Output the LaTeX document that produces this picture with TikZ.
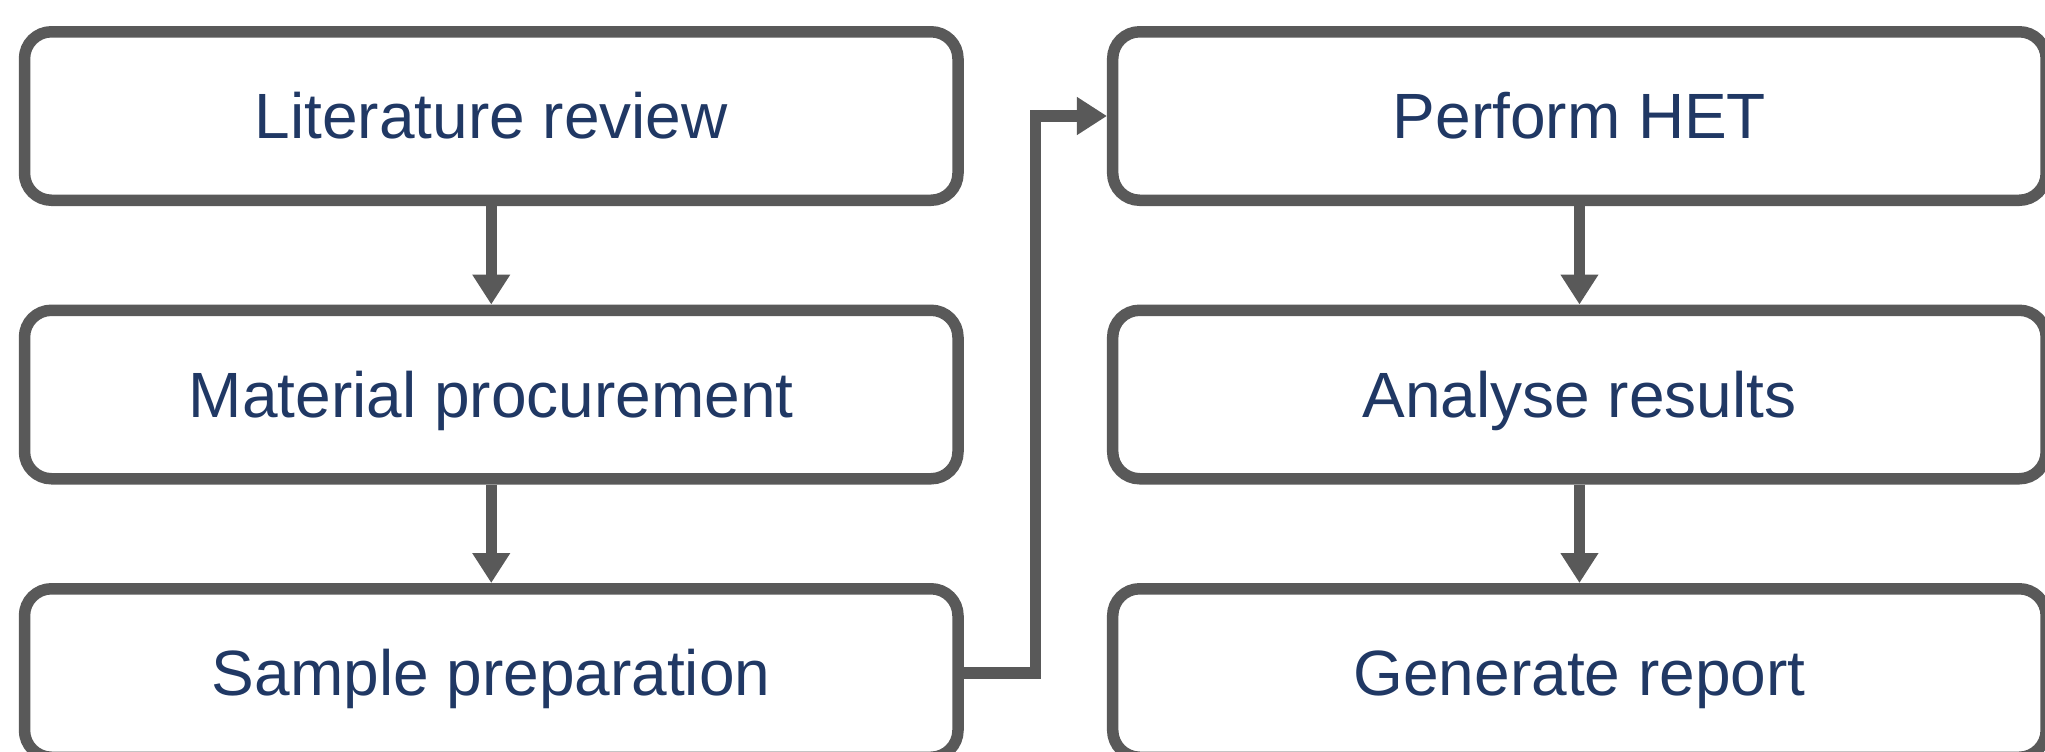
\documentclass[tikz,border=0pt]{standalone}
\usepackage{fontspec}
\setmainfont{Liberation Sans}
\usetikzlibrary{arrows.meta,positioning,calc}
\definecolor{boxline}{HTML}{595959}
\definecolor{boxtext}{HTML}{203864}
\tikzset{
    stepbox/.style={
                draw=boxline,
                line width=5.75pt,
                rounded corners=13.5pt,
                minimum width=466.75pt,
                minimum height=84.25pt,
                text=boxtext,
                font=\fontsize{32}{38}\selectfont,
                text height=22.9pt,
                text depth=0pt
            },
        flow/.style={
                draw=boxline,
                line width=5.75pt,
                -{Triangle[length=15pt,width=18pt]}
            },
}

\begin{document}
\begin{tikzpicture}[x=0.5pt,y=-0.5pt,
    node distance=49.25pt and 71.6pt,
  ]
  \useasboundingbox (0,0) rectangle (2045,751);
  % Left column
  \node[stepbox] (lit) at (491.25,116) {Literature review};
  \node[stepbox, below=of lit] (mat) {Material procurement};
  \node[stepbox, below=of mat] (prep) {Sample preparation};
  % Right column
  \node[stepbox, right=of lit] (het) {Perform HET};
  \node[stepbox, below=of het] (ana) {Analyse results};
  \node[stepbox, below=of ana] (rep) {Generate report};
  % Connectors
  \draw[flow] (lit) -- (mat);
  \draw[flow] (mat) -- (prep);
  \draw[flow] (prep.east) -- ($(prep.east)!.5!(het.west |- prep.east)$) |- (het.west);
  \draw[flow] (het) -- (ana);
  \draw[flow] (ana) -- (rep);
\end{tikzpicture}
\end{document}
